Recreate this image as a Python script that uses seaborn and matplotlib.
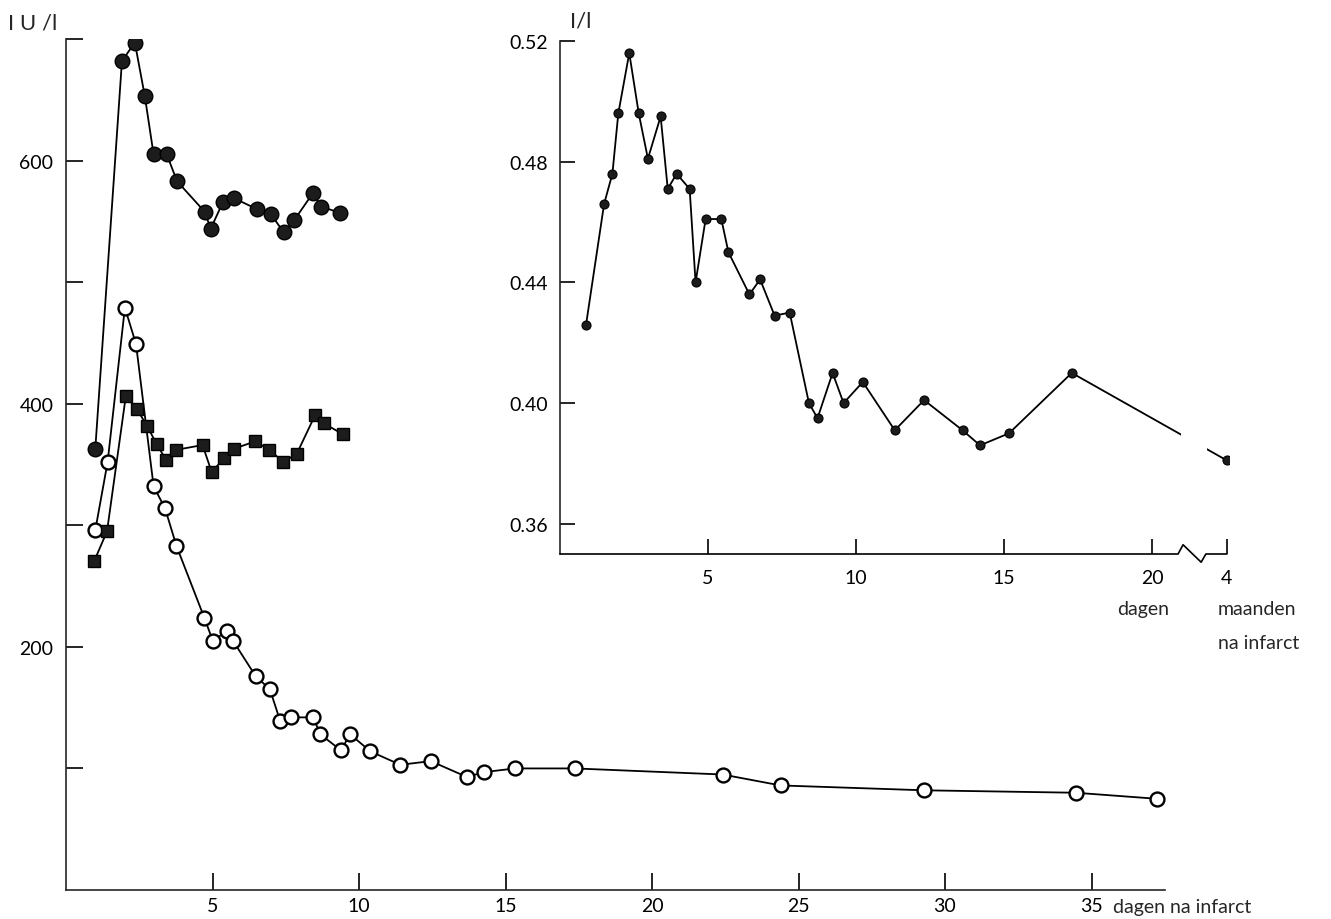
import matplotlib
matplotlib.use("Agg")
import matplotlib.pyplot as plt
import seaborn as sns
from matplotlib.transforms import blended_transform_factory

# ---------------- data ----------------
# main chart (IU/l versus days after infarct)
days_filled = [1.0, 1.91, 2.35, 2.69, 2.99, 3.44, 3.79, 4.73, 4.94, 5.36, 5.74,
               6.52, 6.99, 7.43, 7.79, 8.42, 8.72, 9.36]
iu_filled = [363, 682, 697, 653, 605, 605, 583, 558, 544, 566, 569,
             560, 556, 541, 551, 573, 562, 557]

days_square = [0.97, 1.40, 2.04, 2.41, 2.76, 3.09, 3.41, 3.75, 4.66, 4.97, 5.40,
               5.73, 6.46, 6.94, 7.42, 7.88, 8.51, 8.79, 9.44]
iu_square = [271, 295, 406, 396, 382, 367, 354, 362, 366, 344, 355,
             363, 369, 362, 352, 359, 391, 384, 375]

days_open = [1.0, 1.42, 2.01, 2.39, 2.99, 3.38, 3.77, 4.72, 5.01, 5.49, 5.70,
             6.47, 6.96, 7.31, 7.69, 8.44, 8.68, 9.38, 9.70, 10.39, 11.41,
             12.45, 13.68, 14.28, 15.33, 17.36, 22.41, 24.39, 29.3, 34.46, 37.25]
iu_open = [296, 352, 479, 449, 332, 314, 283, 224, 205, 213, 205,
           176, 165, 139, 142, 142, 128, 115, 128, 114, 103,
           106, 93, 97, 100, 100, 95, 86, 82, 80, 75]

main_xticks = [5, 10, 15, 20, 25, 30, 35]
main_yticks = [100, 200, 300, 400, 500, 600, 700]
main_ylabels = ["", "200", "", "400", "", "600", ""]

# inset chart (I/l versus days; last point at 4 months)
inset_days = [0.88, 1.49, 1.77, 1.97, 2.34, 2.66, 2.97, 3.40, 3.64, 3.94, 4.38,
              4.58, 4.92, 5.45, 5.69, 6.40, 6.76, 7.25, 7.76, 8.41, 8.70, 9.21,
              9.58, 10.23, 11.31, 12.30, 13.60, 14.19, 15.17, 17.29]
inset_vals = [0.426, 0.466, 0.476, 0.496, 0.516, 0.496, 0.481, 0.495, 0.471, 0.476,
              0.471, 0.440, 0.461, 0.461, 0.450, 0.436, 0.441, 0.429, 0.430, 0.400,
              0.395, 0.410, 0.400, 0.407, 0.391, 0.401, 0.391, 0.386, 0.390, 0.410]
month_label = "4"
month_val = 0.381

inset_yticks = [0.36, 0.40, 0.44, 0.48, 0.52]
inset_xticks = [5, 10, 15, 20]

# ---------------- layout / style ----------------
W, H = 1331, 920
MONTH_POS = 22.53          # x position used for the "4 maanden" point on the broken axis
BREAK_GAP = (20.98, 21.86)

sns.set_style("ticks")
plt.rcParams["font.family"] = ["Lato", "DejaVu Sans"]
plt.rcParams["axes.linewidth"] = 1.2

fig = plt.figure(figsize=(W / 100, H / 100), dpi=100)

# main axes
ax = fig.add_axes([66 / W, 1 - 891 / H, (37.5 * 29.3) / W, (891 - 40) / H])
ax.patch.set_alpha(0)

line_kw = dict(color="black", linewidth=1.3, estimator=None, sort=False, ax=ax)
sns.lineplot(x=days_open, y=iu_open, marker="o", markersize=10,
             markerfacecolor="white", markeredgecolor="black", markeredgewidth=1.7,
             **line_kw)
sns.lineplot(x=days_square, y=iu_square, marker="s", markersize=8.5,
             markerfacecolor="#1c1c1c", markeredgecolor="black", markeredgewidth=1,
             **line_kw)
sns.lineplot(x=days_filled, y=iu_filled, marker="o", markersize=10.5,
             markerfacecolor="#1c1c1c", markeredgecolor="black", markeredgewidth=1,
             **line_kw)

ax.set_xlim(0, 37.5)
ax.set_ylim(0, 700)
ax.set_xticks(main_xticks)
ax.set_xticklabels([str(t) for t in main_xticks])
ax.set_yticks(main_yticks)
ax.set_yticklabels(main_ylabels)
ax.tick_params(direction="in", length=12, width=1.2, labelsize=14, colors="black",
               bottom=True, left=True)
ax.tick_params(axis="x", pad=5)
ax.tick_params(axis="y", pad=9)
for s in ("top", "right"):
    ax.spines[s].set_visible(False)
ax.set_xlabel("")
ax.set_ylabel("")

fig.text(1113 / W, 1 - 908 / H, "dagen na infarct", fontsize=14, va="center", ha="left")
fig.text(8 / W, 1 - 24 / H, "I U /l", fontsize=16, va="center", ha="left")

# inset axes
ax2 = fig.add_axes([560 / W, 1 - 555 / H, (22.6 * 29.6) / W, 513 / H])
ax2.patch.set_alpha(0)

all_x = inset_days + [MONTH_POS]
all_y = inset_vals + [month_val]
sns.lineplot(x=all_x, y=all_y, ax=ax2, color="black", linewidth=1.3,
             estimator=None, sort=False, marker="o", markersize=6.5,
             markerfacecolor="#1c1c1c", markeredgecolor="black", markeredgewidth=0.8)
ax2.axvspan(BREAK_GAP[0], BREAK_GAP[1], ymin=0.05, ymax=1, color="white", zorder=5, lw=0)

ax2.set_xlim(0, 22.6)
ax2.set_ylim(0.35, 0.52)
ax2.set_yticks(inset_yticks)
ax2.set_yticklabels([f"{v:.2f}" for v in inset_yticks])
ax2.set_xticks(inset_xticks + [MONTH_POS])
ax2.set_xticklabels([str(t) for t in inset_xticks] + [month_label])
ax2.tick_params(direction="in", length=11, width=1.2, labelsize=14, colors="black",
                bottom=True, left=True)
ax2.tick_params(axis="x", pad=11)
ax2.tick_params(axis="y", pad=9)
for s in ("top", "right", "bottom"):
    ax2.spines[s].set_visible(False)
ax2.set_xlabel("")
ax2.set_ylabel("")

# broken x axis for the inset
tr = blended_transform_factory(ax2.transData, ax2.transAxes)
ax2.plot([0, 20.88, 21.05, 21.66, 21.82, MONTH_POS],
         [0, 0, 0.018, -0.016, 0, 0],
         transform=tr, color="black", lw=1.2, clip_on=False, zorder=6)

fig.text(1143 / W, 1 - 610 / H, "dagen", fontsize=14, va="center", ha="center")
fig.text(1218 / W, 1 - 610 / H, "maanden", fontsize=14, va="center", ha="left")
fig.text(1218 / W, 1 - 644 / H, "na infarct", fontsize=14, va="center", ha="left")
fig.text(570 / W, 1 - 22 / H, "I/l", fontsize=16, va="center", ha="left")

fig.savefig("out.png", dpi=100)
